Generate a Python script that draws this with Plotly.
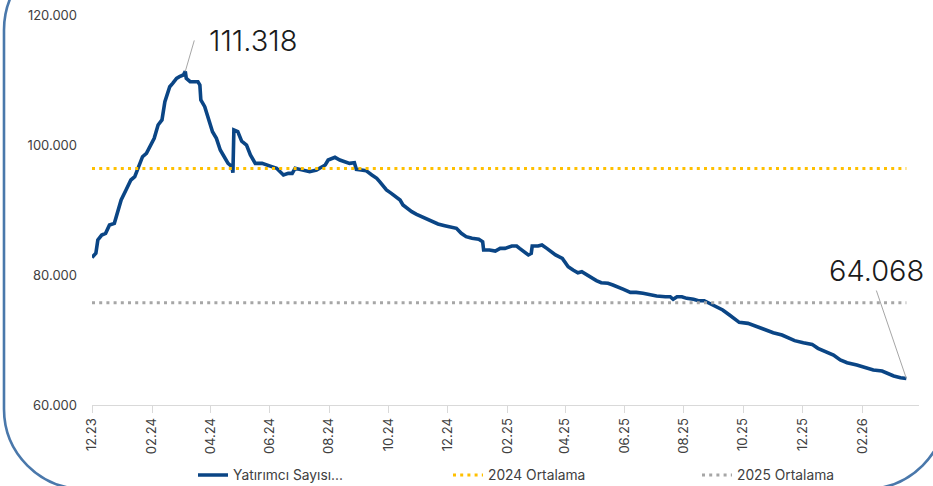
import plotly.graph_objects as go

# ---------------- data ----------------
dates = [
    "2023-12-01", "2023-12-05", "2023-12-07", "2023-12-11", "2023-12-15", "2023-12-19",
    "2023-12-24", "2023-12-28", "2023-12-31", "2024-01-05", "2024-01-10", "2024-01-14",
    "2024-01-17", "2024-01-22", "2024-01-26", "2024-01-31", "2024-02-03", "2024-02-07",
    "2024-02-11", "2024-02-14", "2024-02-19", "2024-02-22", "2024-02-26", "2024-02-29",
    "2024-03-04", "2024-03-06", "2024-03-07", "2024-03-11", "2024-03-19", "2024-03-21",
    "2024-03-22", "2024-03-26", "2024-03-30", "2024-04-03", "2024-04-07", "2024-04-11",
    "2024-04-14", "2024-04-19", "2024-04-23", "2024-04-24", "2024-04-25", "2024-04-29",
    "2024-05-03", "2024-05-08", "2024-05-12", "2024-05-17", "2024-05-24", "2024-05-28",
    "2024-06-03", "2024-06-08", "2024-06-12", "2024-06-15", "2024-06-20", "2024-06-24",
    "2024-06-27", "2024-07-02", "2024-07-07", "2024-07-12", "2024-07-19", "2024-07-24",
    "2024-07-28", "2024-07-31", "2024-08-07", "2024-08-12", "2024-08-17", "2024-08-22",
    "2024-08-27", "2024-08-29", "2024-09-03", "2024-09-08", "2024-09-14", "2024-09-19",
    "2024-09-22", "2024-09-26", "2024-09-29", "2024-10-04", "2024-10-08", "2024-10-13",
    "2024-10-16", "2024-10-20", "2024-10-25", "2024-10-30", "2024-11-04", "2024-11-09",
    "2024-11-14", "2024-11-21", "2024-11-28", "2024-12-03", "2024-12-10", "2024-12-15",
    "2024-12-20", "2024-12-26", "2025-01-02", "2025-01-06", "2025-01-07", "2025-01-13",
    "2025-01-19", "2025-01-24", "2025-01-29", "2025-02-05", "2025-02-10", "2025-02-13",
    "2025-02-18", "2025-02-22", "2025-02-25", "2025-02-26", "2025-03-04", "2025-03-08",
    "2025-03-13", "2025-03-17", "2025-03-22", "2025-03-29", "2025-04-01", "2025-04-04",
    "2025-04-09", "2025-04-14", "2025-04-18", "2025-04-23", "2025-04-28", "2025-05-03",
    "2025-05-08", "2025-05-15", "2025-05-20", "2025-05-25", "2025-05-31", "2025-06-07",
    "2025-06-13", "2025-06-20", "2025-06-27", "2025-07-04", "2025-07-13", "2025-07-18",
    "2025-07-21", "2025-07-25", "2025-07-30", "2025-08-04", "2025-08-11", "2025-08-16",
    "2025-08-22", "2025-08-27", "2025-09-03", "2025-09-10", "2025-09-17", "2025-09-23",
    "2025-09-27", "2025-10-06", "2025-10-15", "2025-10-24", "2025-11-01", "2025-11-10",
    "2025-11-18", "2025-11-23", "2025-12-02", "2025-12-11", "2025-12-17", "2025-12-26",
    "2026-01-02", "2026-01-09", "2026-01-16", "2026-01-26", "2026-02-03", "2026-02-12",
    "2026-02-21", "2026-02-26", "2026-03-05", "2026-03-12", "2026-03-18",
]
investors = [
    82700, 83340, 85385, 86150, 86410, 87690,
    87950, 90260, 91540, 93080, 94615, 95120,
    96410, 98200, 98720, 100260, 101030, 103080,
    103850, 106660, 108970, 109490, 110260, 110510,
    110770, 111318, 110260, 109740, 109740, 109230,
    106920, 105900, 103850, 102050, 101030, 99230,
    98460, 97180, 96670, 95740, 102310, 102050,
    100600, 100000, 98460, 97180, 97180, 96920,
    96670, 96410, 95890, 95380, 95640, 95640,
    96410, 96260, 96150, 95890, 96150, 96670,
    96920, 97690, 98100, 97690, 97440, 97180,
    97280, 96260, 96150, 96050, 95380, 94870,
    94360, 93590, 93080, 92560, 92050, 91540,
    90770, 90260, 89740, 89330, 88970, 88615,
    88200, 87850, 87590, 87440, 87180, 86410,
    85900, 85640, 85490, 85120, 83850, 83850,
    83690, 84100, 84100, 84460, 84460, 84100,
    83590, 83080, 83330, 84460, 84460, 84620,
    84100, 83590, 83080, 82560, 81790, 81280,
    80770, 80350, 80510, 80000, 79490, 79130,
    78820, 78720, 78460, 78100, 77790, 77330,
    77330, 77180, 76920, 76770, 76660, 76660,
    76260, 76660, 76660, 76410, 76260, 76050,
    76050, 75640, 75120, 74620, 73850, 73080,
    72720, 72560, 72050, 71540, 71130, 70770,
    70260, 69900, 69590, 69330, 68720, 68210,
    67690, 66920, 66510, 66150, 65790, 65380,
    65230, 64870, 64460, 64200, 64068,
]
avg_2024 = 96400
avg_2025 = 75750

series_name = "Yatırımcı Sayısı..."
avg_names = ["2024 Ortalama", "2025 Ortalama"]

# ---------------- layout helpers ----------------
W, H = 933, 486
ML, MR, MT, MB = 92, 14, 15, 81
PW, PH = W - ML - MR, H - MT - MB


def px(x):
    return (x - ML) / PW


def py(y):
    return (H - MB - y) / PH


def fmt(v):
    return f"{v:,}".replace(",", ".")


fig = go.Figure()

fig.add_trace(go.Scatter(
    x=dates, y=investors, mode="lines", name=series_name, legend="legend",
    line=dict(color="#0a4585", width=3.6),
))
fig.add_trace(go.Scatter(
    x=[dates[0], dates[-1]], y=[avg_2024, avg_2024], mode="lines", name=avg_names[0],
    legend="legend2",
    line=dict(color="#ffc000", width=3, dash="3px,4.2px"),
))
fig.add_trace(go.Scatter(
    x=[dates[0], dates[-1]], y=[avg_2025, avg_2025], mode="lines", name=avg_names[1],
    legend="legend3",
    line=dict(color="#a6a6a6", width=3, dash="3px,4.2px"),
))

# peak and last annotations
i_peak = investors.index(max(investors))
ann_font = dict(family="Inter", size=29, color="#1a1a1a", weight=300)
fig.add_annotation(
    x=dates[i_peak], y=investors[i_peak], text=fmt(investors[i_peak]),
    showarrow=True, arrowhead=0, arrowwidth=1, arrowcolor="#a6a6a6",
    ax=9, ay=-31, xanchor="left", yanchor="middle", borderpad=14,
    font=ann_font,
)
fig.add_annotation(
    x=dates[-1], y=investors[-1], text=fmt(investors[-1]),
    showarrow=True, arrowhead=0, arrowwidth=1, arrowcolor="#a6a6a6",
    ax=-30, ay=-88, xanchor="center", yanchor="bottom", borderpad=2,
    font=ann_font,
)

# rounded frame
L, R, T, B, r = 4, 946, -50, 489, 80
k = 0.5523 * r
pts = [
    ("M", [(L + r, T)]),
    ("L", [(R - r, T)]),
    ("C", [(R - r + k, T), (R, T + r - k), (R, T + r)]),
    ("L", [(R, B - r)]),
    ("C", [(R, B - r + k), (R - r + k, B), (R - r, B)]),
    ("L", [(L + r, B)]),
    ("C", [(L + r - k, B), (L, B - r + k), (L, B - r)]),
    ("L", [(L, T + r)]),
    ("C", [(L, T + r - k), (L + r - k, T), (L + r, T)]),
]
path = " ".join(
    cmd + " " + " ".join(f"{px(a):.5f},{py(b):.5f}" for a, b in p) for cmd, p in pts
) + " Z"
fig.add_shape(type="path", path=path, xref="paper", yref="paper",
              line=dict(color="#4a78ab", width=2.6), layer="above")

legend_common = dict(
    orientation="h", xanchor="left", yanchor="middle", y=py(475),
    font=dict(size=13.8, color="#404040"), bgcolor="rgba(0,0,0,0)",
    itemwidth=30,
)

fig.update_layout(
    width=W, height=H,
    margin=dict(l=ML, r=MR, t=MT, b=MB, autoexpand=False),
    paper_bgcolor="white", plot_bgcolor="white",
    separators=",.",
    font=dict(family="Inter", color="#404040"),
    showlegend=True,
    legend=dict(legend_common, x=px(193)),
    legend2=dict(legend_common, x=px(448)),
    legend3=dict(legend_common, x=px(697)),
    xaxis=dict(
        type="date", range=["2023-12-01", "2026-03-31"], automargin=False,
        tick0="2023-12-01", dtick="M2", tickformat="%m.%y",
        tickangle=-90, ticks="outside", ticklen=7, tickcolor="#d9d9d9",
        showline=True, linecolor="#d9d9d9", linewidth=1,
        showgrid=False, zeroline=False,
        tickfont=dict(size=13, color="#404040"),
    ),
    yaxis=dict(
        range=[60000, 120000], tickvals=[60000, 80000, 100000, 120000],
        tickformat=",.0f", showgrid=False, zeroline=False, showline=False,
        ticklabelstandoff=14, automargin=False,
        tickfont=dict(size=13, color="#404040"),
    ),
)

fig.write_html(
    "out.html",
    config={"displayModeBar": False},
    post_script="document.body.style.margin='0';document.body.style.overflow='hidden';",
)
